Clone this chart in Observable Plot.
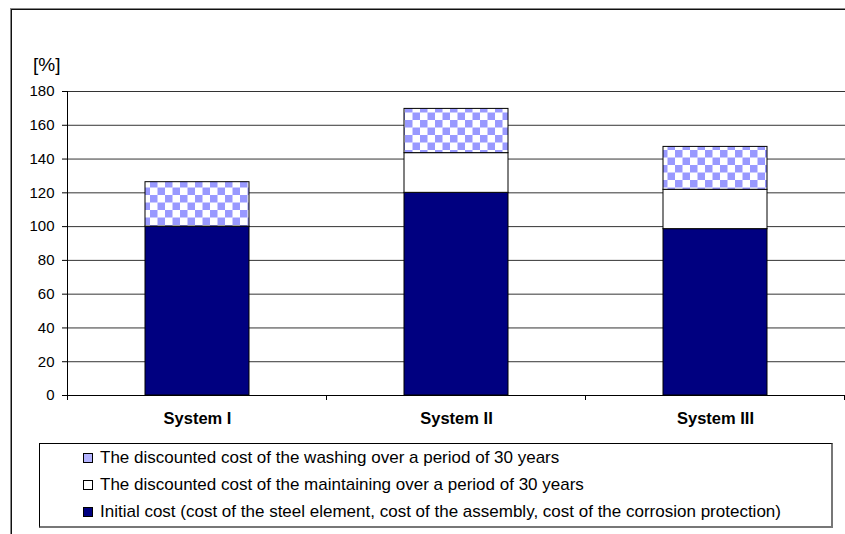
<!DOCTYPE html>
<html>
<head>
<meta charset="utf-8">
<script src="https://cdn.jsdelivr.net/npm/d3@7"></script>
<script src="https://cdn.jsdelivr.net/npm/@observablehq/plot@0.6"></script>
<style>
  html, body { margin: 0; padding: 0; background: #fff; overflow: hidden; }
  body { width: 845px; height: 534px; position: relative; font-family: "Liberation Sans", Arial, sans-serif; }
  #frame { position: absolute; left: 11px; top: 9px; width: 900px; height: 600px;
           border-left: 1px solid #111; border-top: 1px solid #111;
           box-shadow: -1px -1px 0 #888; }
  #chart { position: absolute; left: 0; top: 0; }
  #unit { position: absolute; left: 33px; top: 55px; font-size: 19px; line-height: 19px; color: #000; }
  #legend { position: absolute; left: 39px; top: 443px; width: 794px; height: 85px;
            border: 1px solid #000; border-right: 2px solid #777; border-bottom: 2px solid #777;
            background: #fff; box-sizing: border-box; }
  .row { position: absolute; left: 43px; font-size: 17px; color: #000; white-space: nowrap; line-height: 20px; }
  .sw { display: inline-block; width: 8px; height: 8px; border: 1px solid #000; margin-right: 7px; vertical-align: 0px; box-sizing: content-box; }
</style>
</head>
<body>
<div id="frame"></div>
<div id="chart"></div>
<div id="unit">[%]</div>
<div id="legend"></div>
<svg width="0" height="0" style="position:absolute">
  <defs>
    <pattern id="checker" patternUnits="userSpaceOnUse" width="15" height="15">
      <rect x="0" y="0" width="15" height="15" fill="#ffffff"></rect>
      <rect x="0" y="0" width="7.5" height="7.5" fill="#9999ff"></rect>
      <rect x="7.5" y="7.5" width="7.5" height="7.5" fill="#9999ff"></rect>
    </pattern>
  </defs>
</svg>
<script>
const categories = ["System I", "System II", "System III"];
const seriesNames = [
  "Initial cost (cost of the steel element, cost of the assembly, cost of the corrosion protection)",
  "The discounted cost of the maintaining over a period of 30 years",
  "The discounted cost of the washing over a period of 30 years"
];
const initialCost = [100, 120, 98.5];
const maintainingCost = [0, 23.5, 23.3];
const washingCost = [26.3, 26.2, 25.4];
const yTicks = [0, 20, 40, 60, 80, 100, 120, 140, 160, 180];
const seriesFills = ["#000080", "#ffffff", "url(#checker)"];
const legendSwatches = ["#000080", "#ffffff", "#b3b3ff"];

const seriesValues = [initialCost, maintainingCost, washingCost];
const rows = [];
seriesNames.forEach((s, i) => {
  categories.forEach((c, j) => rows.push({system: c, series: s, value: seriesValues[i][j]}));
});

const plot = Plot.plot({
  width: 845,
  height: 440,
  marginTop: 91,
  marginBottom: 45,
  marginLeft: 67,
  marginRight: 0,
  style: {fontFamily: '"Liberation Sans", Arial, sans-serif', fontSize: "15px", background: "transparent", color: "#000", overflow: "visible"},
  x: {domain: categories, paddingInner: 0.6, paddingOuter: 0.3, label: null},
  y: {domain: [0, 180], label: null},
  color: {domain: seriesNames, range: seriesFills},
  marks: [
    Plot.gridY(yTicks, {stroke: "#000", strokeOpacity: 0.8, strokeWidth: 1}),
    Plot.barY(rows, {x: "system", y: "value", fill: "series", stroke: "#000", strokeWidth: 1}),
    Plot.ruleY([0], {stroke: "#000", strokeWidth: 1}),
    Plot.frame({anchor: "left", stroke: "#000", strokeWidth: 1}),
    Plot.axisY({ticks: yTicks, tickSize: 5, tickPadding: 8, label: null, fontSize: 15, stroke: "#000"}),
    Plot.axisX({tickSize: 0, tickPadding: 17, label: null, fontSize: 16.5, fontWeight: "bold"})
  ]
});
document.getElementById("chart").appendChild(plot);

// category separator ticks at band boundaries (derived from the band scale)
const xs = plot.scale("x");
const ys = plot.scale("y");
const y0 = ys.apply(0);
const gap = (xs.step - xs.bandwidth) / 2;
const bounds = categories.map(c => xs.apply(c) - gap);
bounds.push(xs.apply(categories[categories.length - 1]) + xs.bandwidth + gap);
d3.select(plot).append("g")
  .selectAll("line").data(bounds).join("line")
  .attr("x1", d => d).attr("x2", d => d)
  .attr("y1", y0).attr("y2", y0 + 5)
  .attr("stroke", "#000").attr("stroke-width", 1);

// legend (reverse order, as in the reference)
const legend = document.getElementById("legend");
[2, 1, 0].forEach((i, k) => {
  const r = document.createElement("div");
  r.className = "row";
  r.style.top = (4 + k * 27) + "px";
  const sw = document.createElement("span");
  sw.className = "sw";
  sw.style.background = legendSwatches[i];
  r.appendChild(sw);
  r.appendChild(document.createTextNode(seriesNames[i]));
  legend.appendChild(r);
});
</script>
</body>
</html>
